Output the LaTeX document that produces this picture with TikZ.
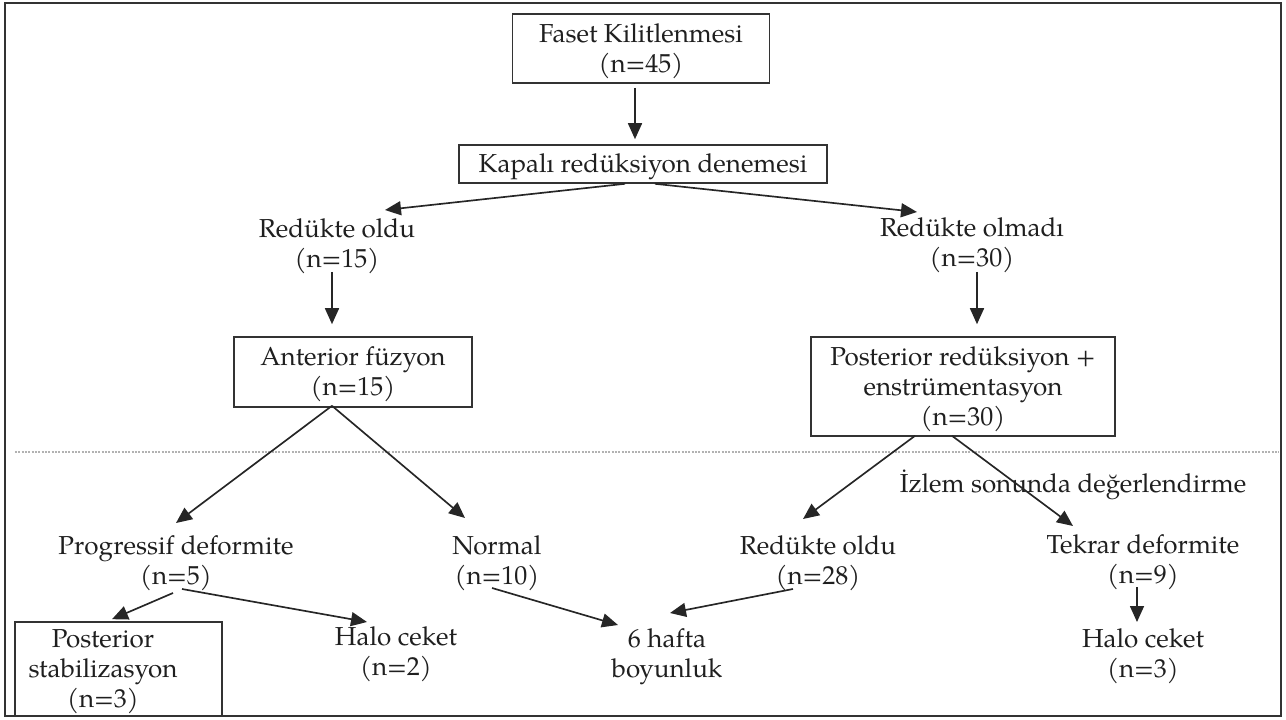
\documentclass[tikz,border=0pt]{standalone}
\usepackage{fontspec}
\setmainfont{texgyrepagella}[Extension=.otf,UprightFont=*-regular,BoldFont=*-bold,ItalicFont=*-italic,BoldItalicFont=*-bolditalic]
\usetikzlibrary{arrows.meta,calc}
\begin{document}
\begin{tikzpicture}[x=0.75pt,y=-0.75pt,
  txt/.style={font=\fontsize{19.5}{22.5}\selectfont, text=black!88, align=center, anchor=base, inner sep=0pt},
  boxnode/.style={draw=black!80, line width=1.2pt, font=\fontsize{19.5}{22.5}\selectfont, text=black!88, align=center, inner sep=0pt, anchor=center, text depth=5pt},
  arr/.style={draw=black!85, line width=1.25pt, -{Triangle[length=12pt,width=10.5pt]}},
]
\useasboundingbox (0,0) rectangle (1286,720);
\draw[line width=1.8pt, black!80] (5,3) rectangle (1281,716);
\draw[gray!60, line width=0.8pt, dash pattern=on 1.5pt off 1pt] (15,452) -- (1279,452);

\node[boxnode, text height=41pt, minimum width=257*0.75pt, minimum height=69*0.75pt] (faset) at (641,48.5) {Faset Kilitlenmesi\\(n=45)};
\node[boxnode, text height=18.5pt, minimum width=368*0.75pt, minimum height=38*0.75pt] (kap) at (643,164) {Kapal\i{} red\"uksiyon denemesi};
\node[txt] (redA) at (337,268) {Red\"ukte oldu\\(n=15)};
\node[txt] (redB) at (972,267) {Red\"ukte olmad\i\\(n=30)};
\node[boxnode, text height=41pt, minimum width=238*0.75pt, minimum height=70*0.75pt] (ant) at (353,372) {Anterior f\"uzyon\\(n=15)};
\node[boxnode, text height=63.5pt, minimum width=304*0.75pt, minimum height=99*0.75pt] (post) at (963,386.5) {Posterior red\"uksiyon +\\enstr\"umentasyon\\(n=30)};
\node[txt] (izlem) at (1073,492) {İzlem sonunda değerlendirme};
\node[txt] (prog) at (176,584) {Progressif deformite\\(n=5)};
\node[txt] (normal) at (497,584) {Normal\\(n=10)};
\node[txt] (red28) at (818,584) {Red\"ukte oldu\\(n=28)};
\node[txt] (tekrar) at (1143,583) {Tekrar deformite\\(n=9)};
\node[draw=black!80, line width=1.2pt, minimum width=207*0.75pt, minimum height=94*0.75pt, inner sep=0pt] (stabbox) at (118.5,669) {};
\node[txt] (stab) at (103,707) {Posterior\\stabilizasyon\\(n=3)};
\node[txt] (halo2) at (396,675) {Halo ceket\\(n=2)};
\node[txt] (hafta) at (667,677) {6 hafta\\boyunluk};
\node[txt] (halo3) at (1143,677) {Halo ceket\\(n=3)};

\draw[arr] ($(faset.south)+(-6,4)$) -- ($(kap.north)+(-8,-5)$);
\draw[arr] ($(kap.south)+(-18,0)$) -- ($(redA.base)+(48,-58)$);
\draw[arr] ($(kap.south)+(12,0)$) -- ($(redB.base)+(-55,-55)$);
\draw[arr] ($(redA.base)+(-5,4)$) -- ($(ant.north)+(-21,-12)$);
\draw[arr] ($(redB.base)+(5,5)$) -- ($(post.north)+(14,-12)$);
\draw[arr] ($(ant.south)+(-21,-2)$) -- ($(prog.base)+(0,-61)$);
\draw[arr] ($(ant.south)+(-21,-2)$) -- ($(normal.base)+(-32,-66)$);
\draw[arr] ($(post.south)+(-48,-1)$) -- ($(red28.base)+(-15,-65)$);
\draw[arr] ($(post.south)+(-11,-1)$) -- ($(tekrar.base)+(-70,-57)$);
\draw[arr] ($(prog.base)+(-3,9)$) -- ($(stabbox.north)+(-6.5,-2)$);
\draw[arr] ($(prog.base)+(6,5)$) -- ($(halo2.base)+(-29,-53)$);
\draw[arr] ($(normal.base)+(-5,4)$) -- ($(hafta.base)+(-49,-52)$);
\draw[arr] ($(red28.base)+(-25,5)$) -- ($(hafta.base)+(3,-64)$);
\draw[arr] ($(tekrar.base)+(-6,4)$) -- ($(halo3.base)+(-6,-55)$);
\end{tikzpicture}
\end{document}
